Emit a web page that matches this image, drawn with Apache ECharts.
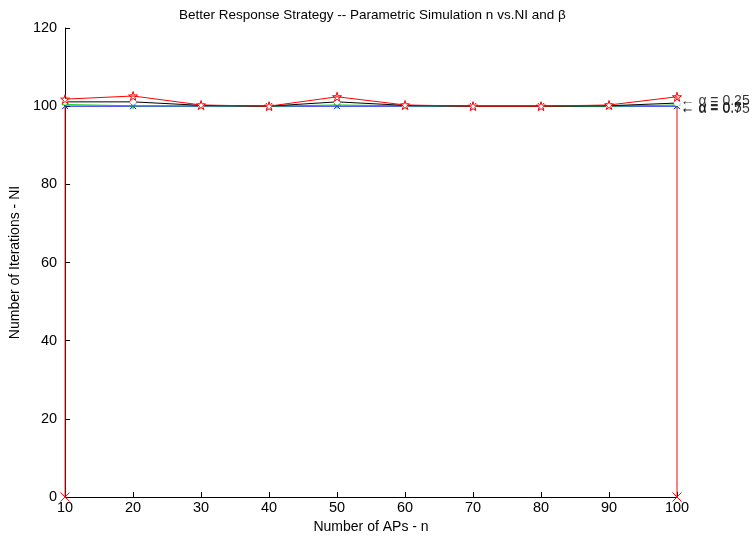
<!DOCTYPE html>
<html><head><meta charset="utf-8">
<script src="https://cdn.jsdelivr.net/npm/echarts@6/dist/echarts.min.js"></script>
<style>html,body{margin:0;padding:0;background:#fff}#c{width:752px;height:539px}</style>
</head><body><div id="c"></div>
<script>
const nValues = [10, 20, 30, 40, 50, 60, 70, 80, 90, 100];
const redNI   = [101.8, 102.6, 100.3, 100.0, 102.4, 100.3, 100.0, 100.0, 100.3, 102.4];
const blackNI = [101.1, 101.1, 100.2, 100.0, 101.1, 100.2, 100.0, 100.0, 100.1, 100.8];
const greenNI = [100.4, 100.1, 100.1, 100.0, 100.3, 100.1, 100.0, 100.0, 100.0, 100.3];
const blueNI  = [100.0, 100.0, 100.0, 100.0, 100.0, 100.0, 100.0, 100.0, 100.0, 100.0];
const redBase = 0;
const labelTexts = ['\u2190 \u03b1 = 0.25', '\u2190 \u03b1 = 0.5', '\u2190 \u03b1 = 0.75'];
const labelValues = [101.3, 99.5, 99.2];
const yTicks = [0, 20, 40, 60, 80, 100, 120];

const star = 'path://M50,0 L61,35 L98,35 L68,57 L79,91 L50,70 L21,91 L32,57 L2,35 L39,35 Z';
const cross = 'path://M0,0 L10,10 M10,0 L0,10';
const plus = 'path://M5,0 L5,10 M0,5 L10,5';
const FONT = 'Liberation Sans, Arial, sans-serif';

function pts(arr){ return nValues.map((n,i)=>[n, arr[i]]); }

const redData = [{value:[nValues[0], redBase], symbol: cross}]
  .concat(pts(redNI))
  .concat([{value:[nValues[nValues.length-1], redBase], symbol: cross}]);

function lineSeries(name, data, color, symbol, size){
  return {
    name, type:'line', data, symbol, symbolSize:size, z: 3, clip:false,
    lineStyle:{color, width:1}, itemStyle:{color:'transparent', borderColor:color, borderWidth:1},
    emphasis:{disabled:true}, animation:false
  };
}

const chart = echarts.init(document.getElementById('c'));
chart.setOption({
  backgroundColor:'#fff',
  animation:false,
  title:{text:'Better Response Strategy -- Parametric Simulation n vs.NI and \u03b2', left:174, top:3,
    textStyle:{fontFamily:FONT, fontSize:13.5, fontWeight:'normal', color:'#000'}},
  grid:{left:63, right:75, top:28, bottom:42},
  xAxis:{type:'value', min:10, max:100, interval:10,
    name:'Number of APs - n', nameLocation:'middle', nameGap:22,
    nameTextStyle:{fontFamily:FONT, fontSize:14, color:'#000'},
    axisLine:{lineStyle:{color:'#000', width:1}}, axisTick:{inside:true, length:5, lineStyle:{color:'#000'}},
    axisLabel:{fontFamily:FONT, fontSize:14.5, color:'#000', margin:3},
    splitLine:{show:false}},
  yAxis:{type:'value', min:yTicks[0], max:yTicks[yTicks.length-1], interval:20,
    name:'Number of Iterations - NI', nameLocation:'middle', nameGap:38,
    nameTextStyle:{fontFamily:FONT, fontSize:14, color:'#000'},
    axisLine:{show:true, lineStyle:{color:'#000', width:1}}, axisTick:{show:true, inside:true, length:5, lineStyle:{color:'#000'}},
    axisLabel:{fontFamily:FONT, fontSize:14.5, color:'#000', margin:8},
    splitLine:{show:false}},
  series:[
    lineSeries('blue', pts(blueNI), '#0000ff', cross, 6),
    lineSeries('green', pts(greenNI), '#00cc00', plus, 7),
    lineSeries('black', pts(blackNI), '#000000', 'emptyCircle', 6),
    lineSeries('red', redData, '#ff0000', star, 9),
    {type:'scatter', symbol:'circle', symbolSize:1, z:5, animation:false, clip:false,
      itemStyle:{color:'rgba(0,0,0,0)'},
      data: labelValues.map((v,i)=>({value:[nValues[nValues.length-1], v], label:{formatter: labelTexts[i]}})),
      label:{show:true, position:'right', distance:3, fontFamily:FONT, fontSize:14, color:'#000'}}
  ]
});
</script></body></html>
